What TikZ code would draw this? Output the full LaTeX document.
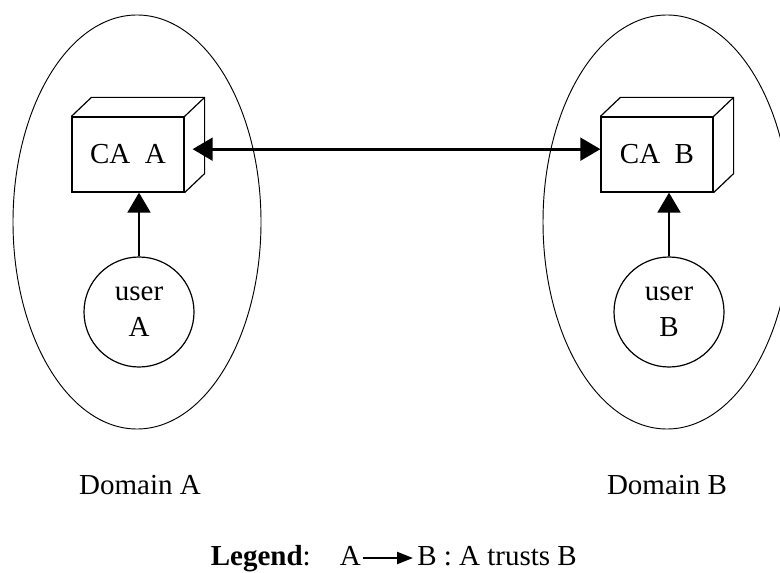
\documentclass[tikz,border=0pt]{standalone}
\usepackage{fontspec}
\setmainfont{Liberation Serif}
\usetikzlibrary{arrows.meta,calc}

\tikzset{
  cabox/.style={draw, line width=0.9pt, minimum width=84pt, minimum height=56.25pt, inner sep=0pt},
  usercircle/.style={draw, circle, line width=0.9pt, minimum size=82.5pt, inner sep=0pt, align=center},
  trust/.style={line width=2.2pt, -{Triangle[length=15pt,width=17pt]}},
  legendarrow/.style={line width=1.6pt, -{Triangle[length=12pt,width=9pt]}},
  domainline/.style={line width=0.7pt}
}

\begin{document}
\begin{tikzpicture}[x=0.75pt,y=0.75pt,yscale=-1,xscale=1,
  every node/.style={font=\fontsize{21.75}{27}\selectfont}]
\useasboundingbox (0,0) rectangle (780,573);

%Shape: Ellipse [domain A]
\draw [domainline] (137,222) circle [x radius=124, y radius=207];
%Shape: Ellipse [domain B]
\draw [domainline] (667,222) circle [x radius=124, y radius=207];

%Shape: Box [CA A]
\node [cabox] (caA) at (128,154.5) {CA\ \ A};
\draw [line width=0.9pt] (caA.north west) -- ++(20,-19) -- ($(caA.north east)+(20,-19)$) -- ($(caA.south east)+(20,-19)$) -- (caA.south east);
\draw [line width=0.9pt] (caA.north east) -- ++(20,-19);
%Shape: Box [CA B]
\node [cabox] (caB) at (657,154.5) {CA\ \ B};
\draw [line width=0.9pt] (caB.north west) -- ++(20,-19) -- ($(caB.north east)+(20,-19)$) -- ($(caB.south east)+(20,-19)$) -- (caB.south east);
\draw [line width=0.9pt] (caB.north east) -- ++(20,-19);

%Shape: Circle [users]
\node [usercircle] (userA) at (139,312) {user\\A};
\node [usercircle] (userB) at (669,312) {user\\B};

%Straight Lines [trust arrows]
\draw [trust] (userA.north) -- (userA.north |- caA.south);
\draw [trust] (userB.north) -- (userB.north |- caB.south);
\draw [trust, {Triangle[length=15pt,width=17pt]}-{Triangle[length=15pt,width=17pt]}, shorten <=6pt] ([yshift=-4pt]caA.east) -- ([yshift=-4pt]caB.west);

% Text Node
\node (domA) at (140,485) {Domain A};
% Text Node
\node (domB) at (667,485) {Domain B};

% Legend
\node [anchor=base east, inner sep=0pt] (legL) at (361,565) {\textbf{Legend}:\quad A};
\node [anchor=base west, inner sep=0pt] (legR) at (417,565) {B : A trusts B};
\draw [legendarrow] ($(legL.base east)+(2,-7)$) -- ($(legR.base west)+(-4,-7)$);

\end{tikzpicture}
\end{document}
